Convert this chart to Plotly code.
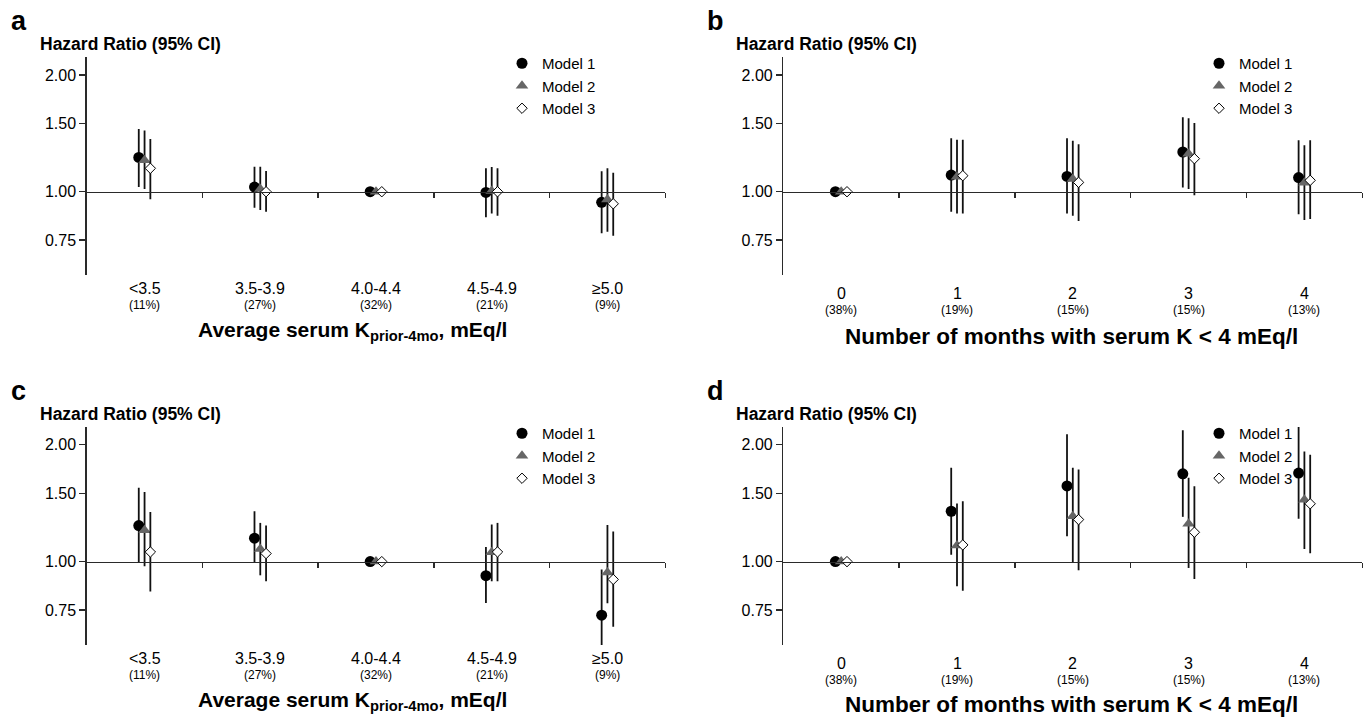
import math
import plotly.graph_objects as go

W, H = 1368, 719
FONT = "Liberation Sans, Arial, Helvetica, sans-serif"

# ---------------- data ----------------
cats_k = ["<3.5", "3.5-3.9", "4.0-4.4", "4.5-4.9", "≥5.0"]
pct_k = ["(11%)", "(27%)", "(32%)", "(21%)", "(9%)"]
cats_m = ["0", "1", "2", "3", "4"]
pct_m = ["(38%)", "(19%)", "(15%)", "(15%)", "(13%)"]
models = ["Model 1", "Model 2", "Model 3"]

# panel a
a_hr = [[1.226, 1.028, 1.0, 0.996, 0.939],
        [1.205, 1.016, 1.0, 1.004, 0.955],
        [1.149, 1.000, 1.0, 1.000, 0.931]]
a_lo = [[1.028, 0.909, 1.0, 0.859, 0.781],
        [1.016, 0.897, 1.0, 0.879, 0.789],
        [0.957, 0.888, 1.0, 0.867, 0.770]]
a_hi = [[1.451, 1.160, 1.0, 1.149, 1.130],
        [1.439, 1.160, 1.0, 1.158, 1.149],
        [1.367, 1.131, 1.0, 1.149, 1.120]]
# panel b
b_hr = [[1.0, 1.104, 1.095, 1.266, 1.088],
        [1.0, 1.093, 1.078, 1.253, 1.055],
        [1.0, 1.100, 1.057, 1.217, 1.070]]
b_lo = [[1.0, 0.888, 0.879, 1.026, 0.875],
        [1.0, 0.879, 0.867, 1.016, 0.846],
        [1.0, 0.879, 0.840, 0.980, 0.850]]
b_hi = [[1.0, 1.373, 1.373, 1.555, 1.357],
        [1.0, 1.362, 1.354, 1.546, 1.317],
        [1.0, 1.362, 1.325, 1.504, 1.357]]
# panel c
c_hr = [[1.238, 1.149, 1.0, 0.920, 0.728],
        [1.205, 1.078, 1.0, 1.057, 0.937],
        [1.059, 1.049, 1.0, 1.059, 0.900]]
c_lo = [[0.992, 0.992, 1.0, 0.782, 0.610],
        [0.973, 0.922, 1.0, 0.890, 0.781],
        [0.838, 0.890, 1.0, 0.890, 0.680]]
c_hi = [[1.549, 1.348, 1.0, 1.091, 0.955],
        [1.510, 1.258, 1.0, 1.246, 1.243],
        [1.341, 1.238, 1.0, 1.258, 1.195]]
# panel d
d_hr = [[1.0, 1.348, 1.566, 1.683, 1.690],
        [1.0, 1.100, 1.309, 1.251, 1.442],
        [1.0, 1.104, 1.283, 1.190, 1.409]]
d_lo = [[1.0, 1.042, 1.162, 1.304, 1.289],
        [1.0, 0.864, 0.992, 0.963, 1.078],
        [1.0, 0.842, 0.950, 0.902, 1.051]]
d_hi = [[1.0, 1.744, 2.127, 2.178, 2.220],
        [1.0, 1.411, 1.744, 1.644, 1.922],
        [1.0, 1.431, 1.727, 1.564, 1.884]]

y_tickvals = [0.75, 1.0, 1.5, 2.0]
y_ticktext = ["0.75", "1.00", "1.50", "2.00"]
y_min, y_max = 0.61, 2.225

# ---------------- styling ----------------
offsets = [-0.05, 0.0, 0.05]
symbols = ["circle", "triangle-up", "diamond"]
fills = ["#000000", "#666666", "#ffffff"]
sizes = [11, 11, 8]
AX = "#2a2a2a"

def fx(px):
    return px / W

def fy(py):
    return 1 - py / H

panels = [
    dict(name="a", hr=a_hr, lo=a_lo, hi=a_hi, cats=cats_k, pct=pct_k,
         x0=86.7, x1=665.3, top=57.0, bot=275.0, dy=0.0, right=False),
    dict(name="b", hr=b_hr, lo=b_lo, hi=b_hi, cats=cats_m, pct=pct_m,
         x0=783.3, x1=1362.3, top=57.0, bot=275.0, dy=0.0, right=True),
    dict(name="c", hr=c_hr, lo=c_lo, hi=c_hi, cats=cats_k, pct=pct_k,
         x0=86.7, x1=665.3, top=426.7, bot=645.0, dy=370.0, right=False),
    dict(name="d", hr=d_hr, lo=d_lo, hi=d_hi, cats=cats_m, pct=pct_m,
         x0=783.3, x1=1362.3, top=426.7, bot=645.0, dy=370.0, right=True),
]

fig = go.Figure()
layout = dict(width=W, height=H, margin=dict(l=0, r=0, t=0, b=0),
              paper_bgcolor="white", plot_bgcolor="white",
              font=dict(family=FONT, color="#000000"), annotations=[])

lr0, lr1 = math.log10(y_min), math.log10(y_max)

for i, p in enumerate(panels):
    k = "" if i == 0 else str(i + 1)
    xa, ya = "x" + k, "y" + k
    leg = "legend" + k
    ydom = [fy(p["bot"]), fy(p["top"])]
    frac = (0 - lr0) / (lr1 - lr0)
    pos = ydom[0] + frac * (ydom[1] - ydom[0])
    layout["xaxis" + k] = dict(
        domain=[fx(p["x0"]), fx(p["x1"])], range=[-0.5, 4.5], anchor="free",
        position=pos, showgrid=False, zeroline=False, showline=True,
        linecolor=AX, linewidth=1.4, ticks="outside", ticklen=5,
        tickwidth=1.4, tickcolor=AX, tickvals=[0.5, 1.5, 2.5, 3.5, 4.5],
        showticklabels=False, fixedrange=True)
    layout["yaxis" + k] = dict(
        domain=ydom, type="log", range=[lr0, lr1], anchor=xa,
        showgrid=False, zeroline=False, showline=True, linecolor=AX,
        linewidth=1.4, ticks="outside", ticklen=6, tickwidth=1.4,
        tickcolor=AX, tickmode="array", tickvals=y_tickvals,
        ticktext=y_ticktext, tickfont=dict(size=16, family=FONT, color="#000"),
        fixedrange=True)
    lx = 1221 if p["right"] else 524
    layout[leg] = dict(x=fx(lx - 22), y=fy(47 + p["dy"]), xanchor="left",
                       yanchor="top", bgcolor="rgba(0,0,0,0)",
                       font=dict(size=15, family=FONT, color="#000"),
                       itemwidth=30, tracegroupgap=0)
    for m in range(3):
        xs = [j + offsets[m] for j in range(5)]
        hr = p["hr"][m]
        up = [p["hi"][m][j] - hr[j] for j in range(5)]
        dn = [hr[j] - p["lo"][m][j] for j in range(5)]
        fig.add_trace(go.Scatter(
            x=xs, y=hr, mode="markers", name=models[m], xaxis=xa, yaxis=ya,
            legend=leg, showlegend=True,
            marker=dict(symbol=symbols[m], size=sizes[m], color=fills[m],
                        line=dict(color="#000000", width=1 if m == 2 else 0)),
            error_y=dict(type="data", symmetric=False, array=up,
                         arrayminus=dn, color="#111111", thickness=1.8,
                         width=0),
            cliponaxis=False, hoverinfo="skip"))
    # panel letter
    layout["annotations"].append(dict(
        text="<b>%s</b>" % p["name"], xref="paper", yref="paper",
        x=fx(9 if not p["right"] else 705), y=fy(21 + p["dy"]),
        xanchor="left", yanchor="middle", showarrow=False,
        font=dict(size=27, family=FONT, color="#000")))
    # y title
    layout["annotations"].append(dict(
        text="<b>Hazard Ratio (95% CI)</b>", xref="paper", yref="paper",
        x=fx(p["x0"] - 49), y=fy(44 + p["dy"]), xanchor="left",
        yanchor="middle", showarrow=False,
        font=dict(size=17.5, family=FONT, color="#000")))
    # category labels
    cy = 288 if not p["right"] else 293
    for j in range(5):
        layout["annotations"].append(dict(
            text=p["cats"][j], xref=xa, yref="paper", x=j, y=fy(cy + p["dy"]),
            xanchor="center", yanchor="middle", showarrow=False,
            font=dict(size=16, family=FONT, color="#000")))
        layout["annotations"].append(dict(
            text=p["pct"][j], xref=xa, yref="paper", x=j,
            y=fy(cy + 17 + p["dy"]), xanchor="center", yanchor="middle",
            showarrow=False, font=dict(size=12, family=FONT, color="#000")))
    # x title
    if not p["right"]:
        t = "<b>Average serum K<sub>prior-4mo</sub>, mEq/l</b>"
        layout["annotations"].append(dict(
            text=t, xref="paper", yref="paper", x=fx(352),
            y=fy(331 + p["dy"]), xanchor="center", yanchor="middle",
            showarrow=False, font=dict(size=21, family=FONT, color="#000")))
    else:
        t = "<b>Number of months with serum K &lt; 4 mEq/l</b>"
        ty = 336 if p["dy"] == 0 else 704
        layout["annotations"].append(dict(
            text=t, xref="paper", yref="paper", x=fx(1071),
            y=fy(ty), xanchor="center", yanchor="middle",
            showarrow=False, font=dict(size=22.5, family=FONT, color="#000")))

fig.update_layout(**layout)
fig.write_html(
    "out.html",
    config={"displayModeBar": False, "staticPlot": True},
    post_script="document.body.style.margin='0';"
                "document.body.style.overflow='hidden';")
